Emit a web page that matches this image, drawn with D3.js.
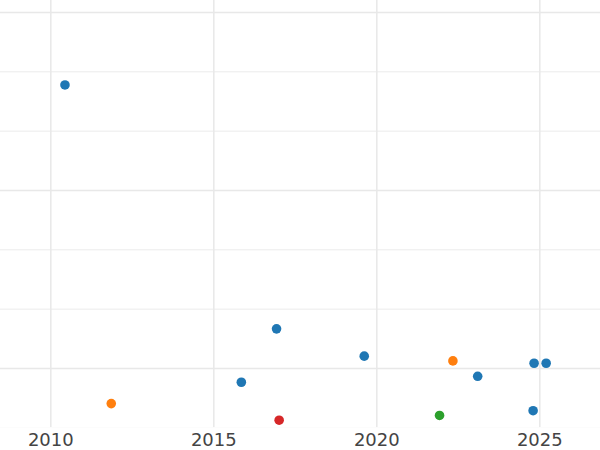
<!DOCTYPE html>
<html>
<head>
<meta charset="utf-8">
<script src="https://cdn.jsdelivr.net/npm/d3@7"></script>
<style>
  body { margin: 0; background: #fff; }
  svg { display: block; font-family: "DejaVu Sans", sans-serif; }
</style>
</head>
<body>
<div id="chart"></div>
<script>
// data
const years  = [2010.45, 2011.87, 2015.86, 2016.94, 2017.02, 2019.63, 2021.94, 2022.35, 2023.11, 2024.81, 2024.84, 2025.21];
const values = [4.77, -0.60, -0.24, 0.66, -0.88, 0.20, -0.80, 0.12, -0.14, -0.72, 0.08, 0.08];
const groups = ["A", "B", "A", "A", "D", "A", "C", "B", "A", "A", "A", "A"];
const groupNames  = ["A", "B", "C", "D"];
const groupColors = ["#1f77b4", "#ff7f0e", "#2ca02c", "#d62728"];
const xTicks = [2010, 2015, 2020, 2025];
const yMajor = [0, 3, 6];
const yMinor = [-1, 1, 2, 4, 5, 7];

const w = 600, h = 450;
const plotBottom = 427.3;

const svg = d3.select("#chart").append("svg")
  .attr("width", w).attr("height", h);

const x = d3.scaleLinear().domain([2010, 2025]).range([50.3, 539.3]);
const y = d3.scaleLinear().domain([0, 6]).range([368, 12]);
const color = d3.scaleOrdinal().domain(groupNames).range(groupColors);

svg.append("clipPath").attr("id", "clip")
  .append("rect").attr("x", 0).attr("y", 0).attr("width", w).attr("height", plotBottom);

const plot = svg.append("g").attr("clip-path", "url(#clip)");

// minor horizontal grid
plot.append("g")
  .call(d3.axisLeft(y).tickValues(yMinor).tickSize(-w).tickFormat(""))
  .call(g => g.select(".domain").remove())
  .call(g => g.selectAll("line").attr("stroke", "#ebebeb").attr("stroke-width", 1));

// major horizontal grid
plot.append("g")
  .call(d3.axisLeft(y).tickValues(yMajor).tickSize(-w).tickFormat(""))
  .call(g => g.select(".domain").remove())
  .call(g => g.selectAll("line").attr("stroke", "#e8e8e8").attr("stroke-width", 1.6));

// vertical grid
plot.append("g").attr("transform", "translate(0," + plotBottom + ")")
  .call(d3.axisBottom(x).tickValues(xTicks).tickSize(-plotBottom).tickFormat(""))
  .call(g => g.select(".domain").remove())
  .call(g => g.selectAll("line").attr("stroke", "#e8e8e8").attr("stroke-width", 1.5));

// points
plot.selectAll("circle")
  .data(years.map((yr, i) => ({ yr: yr, v: values[i], g: groups[i] })))
  .enter().append("circle")
  .attr("cx", d => x(d.yr))
  .attr("cy", d => y(d.v))
  .attr("r", 4.8)
  .attr("fill", d => color(d.g));

// x axis labels
svg.append("g").attr("transform", "translate(0," + plotBottom + ")")
  .call(d3.axisBottom(x).tickValues(xTicks).tickSize(0).tickPadding(6).tickFormat(d3.format("d")))
  .call(g => g.select(".domain").remove())
  .call(g => g.selectAll("text")
    .attr("fill", "#444")
    .style("font-size", "18px")
    .style("font-family", "'DejaVu Sans', sans-serif"));
</script>
</body>
</html>
